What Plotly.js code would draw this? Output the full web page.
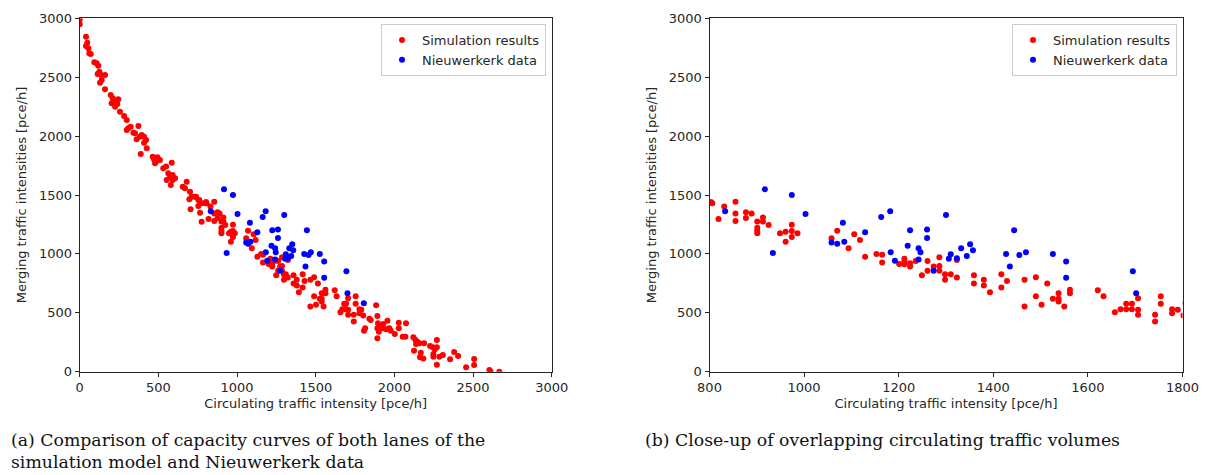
<!DOCTYPE html>
<html>
<head>
<meta charset="utf-8">
<script src="https://cdn.plot.ly/plotly-3.0.1.min.js"></script>
<style>html,body{margin:0;padding:0;background:#fff;}#chart{width:1207px;height:475px;}</style>
</head>
<body>
<div id="chart"></div>
<script>
// Simulation results (red)
const simX = [0,0,40,48,40,55,61,70,93,108,118,125,114,135,161,140,129,161,197,210,203,225,239,225,245,256,282,299,309,299,324,341,352,373,362,383,394,409,422,409,426,388,464,472,485,479,494,510,531,549,585,563,574,591,606,591,553,579,655,669,680,701,712,739,760,697,705,733,754,775,765,754,775,798,
803,806,819,831,855,855,855,877,889,877,901,913,913,901,901,901,925,949,961,961,974,974,974,986,1058,1070,1106,1118,1094,1129,1153,1165,1165,1201,1212,1212,1212,1224,1224,1236,1249,1261,1261,1274,1286,1286,1286,1298,1298,1310,1323,1323,1359,1359,1380,1380,1393,1417,1417,1429,1466,1466,1490,1490,1502,1514,1526,1538,1538,1538,1550,1562,1562,1621,1633,1657,1669,1681,1681,1693,1693,1706,1706,1706,1742,1742,1754,1754,1778,1778,1790,1802,
1814,1807,1841,1850,1884,1892,1896,1909,1892,1926,1901,1930,1956,1947,1968,1977,1892,2003,2028,2028,2074,2053,2070,2121,2134,2146,2138,2159,2125,2163,2184,2189,2168,2227,2244,2257,2270,2248,2270,2286,2308,2270,2248,2354,2380,2405,2456,2507,2507,2604,2612,2667];
const simY = [2990,2950,2844,2793,2765,2745,2703,2697,2626,2618,2598,2547,2527,2519,2519,2476,2453,2397,2349,2321,2278,2292,2272,2250,2312,2207,2171,2137,2066,2052,2080,2029,2024,2086,1973,1995,2009,1995,1967,1944,1896,1848,1825,1803,1783,1769,1820,1797,1727,1741,1774,1684,1655,1670,1642,1627,1627,1585,1570,1557,1613,1528,1486,1486,1457,1463,1379,1486,1457,1429,1350,1407,1273,1429,
1440,1430,1297,1403,1443,1344,1280,1353,1344,1305,1274,1308,1274,1223,1195,1175,1246,1175,1189,1104,1248,1195,1144,1175,1132,1197,1166,1118,1047,975,1000,992,926,915,958,935,912,920,892,940,819,940,856,892,971,898,856,827,780,827,949,799,819,748,780,731,675,827,714,771,780,553,802,641,568,748,619,666,619,596,553,695,666,692,641,505,531,576,531,576,531,624,525,483,483,426,641,576,531,497,525,477,
368,348,450,439,564,473,411,382,368,368,340,405,433,360,368,348,283,320,416,368,411,297,297,292,269,255,235,241,178,122,113,241,161,218,207,190,269,150,207,127,142,59,127,105,167,133,37,108,57,14,0,0];
// Nieuwerkerk data (blue)
const obsX = [833,917,934,974,1003,1058,1070,1082,1085,1129,1163,1182,1183,1192,1219,1224,1242,1246,1242,1260,1260,1274,1300,1306,1310,1323,1332,1344,1351,1357,1427,1435,1444,1455,1469,1526,1554,1554,1695,1702,1806];
const obsY = [1361,1548,1008,1500,1339,1096,1087,1265,1104,1183,1313,1361,1014,941,1070,1200,1047,1014,952,1208,1136,856,1330,958,997,963,1047,983,1081,1031,1000,892,1200,991,1014,1000,935,797,853,666,582];

const seriesNames = ['Simulation results', 'Nieuwerkerk data'];
const xTitle = 'Circulating traffic intensity [pce/h]';
const yTitle = 'Merging traffic intensities [pce/h]';
const captionA = '(a) Comparison of capacity curves of both lanes of the<br>simulation model and Nieuwerkerk data';
const captionB = '(b) Close-up of overlapping circulating traffic volumes';

const W = 1207, H = 475;
const FS = 13;
const mk = (c) => ({color: c, size: 6, line: {width: 0}});
const traces = [
  {x: simX, y: simY, type: 'scatter', mode: 'markers', name: seriesNames[0], marker: mk('#ff0000'), xaxis: 'x', yaxis: 'y', legend: 'legend'},
  {x: obsX, y: obsY, type: 'scatter', mode: 'markers', name: seriesNames[1], marker: mk('#0000ff'), xaxis: 'x', yaxis: 'y', legend: 'legend'},
  {x: simX, y: simY, type: 'scatter', mode: 'markers', name: seriesNames[0], marker: mk('#ff0000'), xaxis: 'x2', yaxis: 'y2', legend: 'legend2'},
  {x: obsX, y: obsY, type: 'scatter', mode: 'markers', name: seriesNames[1], marker: mk('#0000ff'), xaxis: 'x2', yaxis: 'y2', legend: 'legend2'}
];

const axBase = {showline: true, mirror: true, linecolor: '#262626', linewidth: 1, ticks: 'outside', ticklen: 4, tickcolor: '#262626', showgrid: false, zeroline: false, automargin: false, tickfont: {size: FS, color: '#262626'}};
const yDom = [1 - 371.7 / H, 1 - 18.3 / H];
const legBase = {xanchor: 'right', yanchor: 'top', bordercolor: '#cccccc', borderwidth: 1, bgcolor: 'rgba(255,255,255,0.85)', font: {size: FS, color: '#262626'}, tracegroupgap: 0};
const xt = {text: xTitle, font: {size: FS}, standoff: 4};
const yt = {text: yTitle, font: {size: FS}, standoff: 9};

const layout = {
  width: W, height: H,
  margin: {l: 0, r: 0, t: 0, b: 0},
  paper_bgcolor: '#ffffff', plot_bgcolor: '#ffffff',
  font: {family: 'DejaVu Sans, sans-serif', size: FS, color: '#262626'},
  showlegend: true,
  xaxis: Object.assign({}, axBase, {domain: [79.7 / W, 551.7 / W], range: [0, 3000], tick0: 0, dtick: 500, anchor: 'y', title: xt}),
  yaxis: Object.assign({}, axBase, {domain: yDom, range: [0, 3000], tick0: 0, dtick: 500, anchor: 'x', title: yt}),
  xaxis2: Object.assign({}, axBase, {domain: [709.5 / W, 1182.5 / W], range: [800, 1800], tick0: 800, dtick: 200, anchor: 'y2', title: xt}),
  yaxis2: Object.assign({}, axBase, {domain: yDom, range: [0, 3000], tick0: 0, dtick: 500, anchor: 'x2', title: yt}),
  legend: Object.assign({}, legBase, {x: 546 / W, y: 1 - 24 / H}),
  legend2: Object.assign({}, legBase, {x: 1177 / W, y: 1 - 24 / H}),
  annotations: [
    {text: captionA, xref: 'paper', yref: 'paper', x: 9 / W, y: 1 - 428 / H, xanchor: 'left', yanchor: 'top', align: 'left', showarrow: false, font: {family: 'DejaVu Serif, serif', size: 17.3, color: '#111111'}},
    {text: captionB, xref: 'paper', yref: 'paper', x: 643 / W, y: 1 - 428 / H, xanchor: 'left', yanchor: 'top', align: 'left', showarrow: false, font: {family: 'DejaVu Serif, serif', size: 17.3, color: '#111111'}}
  ]
};

Plotly.newPlot('chart', traces, layout, {displayModeBar: false, staticPlot: true});
</script>
</body>
</html>
